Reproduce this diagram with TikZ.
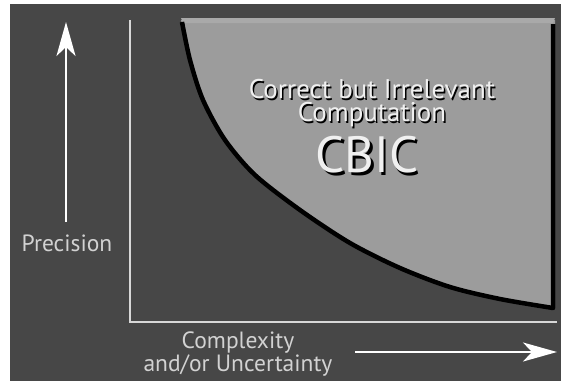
\documentclass[tikz,border=0pt]{standalone}
\usepackage{fontspec}
\setmainfont{PT Sans}
\usetikzlibrary{arrows.meta}
\definecolor{bgdark}{HTML}{474747}
\definecolor{regfill}{HTML}{9C9C9C}
\definecolor{regtop}{HTML}{A9A9A9}
\definecolor{axiscol}{HTML}{D8D8D8}
\definecolor{labcol}{HTML}{D2D2D2}
\tikzset{
  axisline/.style={draw=axiscol, line width=2pt},
  bigarrow/.style={draw=white, line width=2.5pt, -{Stealth[length=34pt,width=19pt,inset=9pt,fill=white]}},
  lab/.style={text=labcol, inner sep=0pt, align=center, font=\fontsize{23.5}{23}\selectfont},
  ttl/.style={text=white!94!black, inner sep=0pt, align=center, font=\fontsize{27}{23}\selectfont},
  ttlshadow/.style={text=black, inner sep=0pt, align=center, font=\fontsize{27}{23}\selectfont},
  cbic/.style={text=white!94!black, inner sep=0pt, font=\fontsize{51}{50}\selectfont},
  cbicshadow/.style={text=black, inner sep=0pt, font=\fontsize{51}{50}\selectfont},
}
\begin{document}
\begin{tikzpicture}[x=1pt,y=-1pt]
\useasboundingbox (0,0) rectangle (561,381);
\fill[white] (0,0) rectangle (561,381);
\fill[bgdark] (10,4) rectangle (561,381);
% region
\fill[regfill] (181,20) -- (555,20) -- (555,308)
  -- plot[smooth] coordinates {(553,308) (500,299) (450,287) (400,268) (350,243) (300,210) (255,175) (225,140) (203,100) (190,60) (181,20)} -- cycle;
\fill[regtop] (181,18) -- (555,18) -- (553,23) -- (183,23) -- cycle;
\draw[black, line width=4.5pt, line join=round]
  plot[smooth] coordinates {(182,22) (190,60) (203,100) (225,140) (255,175) (300,210) (350,243) (400,268) (450,287) (500,299) (553,308)}
  -- (553,24);
% axes
\coordinate (ytop) at (130,20);
\coordinate (origin) at (130,322);
\coordinate (xend) at (557,322);
\draw[axisline] (ytop) -- (origin) -- (xend);
% arrows
\coordinate (ua0) at (66,222);
\coordinate (ua1) at (66,22);
\draw[bigarrow] (ua0) -- (ua1);
\coordinate (ra0) at (355,352);
\coordinate (ra1) at (557,352);
\draw[bigarrow] (ra0) -- (ra1);
% labels
\node[lab] (prec) at (67,243) {Precision};
\node[lab] (cx) at (238,354) {Complexity\\and/or Uncertainty};
\node[ttlshadow] (t1s) at (373.5,105.5) {Correct but Irrelevant\\Computation};
\node[ttl] (t1) at (372,103.5) {Correct but Irrelevant\\Computation};
\node[cbicshadow] (cbs) at (369.5,157.5) {CBIC};
\node[cbic] (cb) at (367,155) {CBIC};
\end{tikzpicture}
\end{document}
